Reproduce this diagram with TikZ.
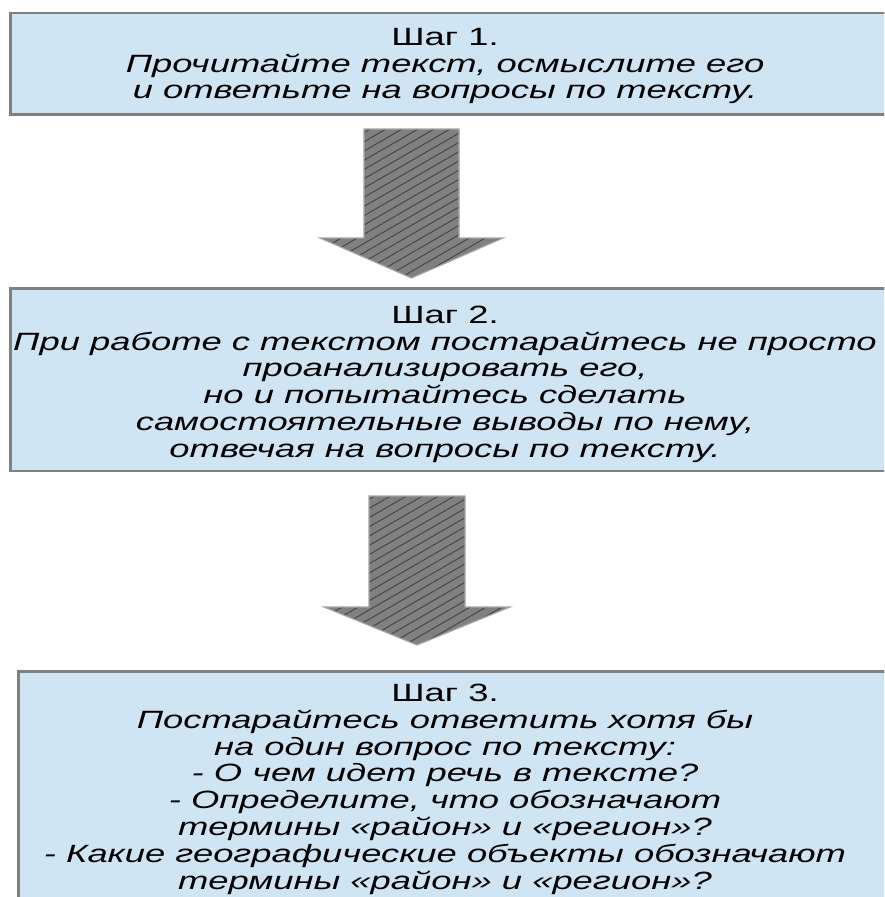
\documentclass[tikz,border=0pt]{standalone}
\usepackage{fontspec}
\setmainfont{Liberation Sans}[FakeStretch=1.455]
\usetikzlibrary{patterns.meta}
\definecolor{boxfill}{RGB}{208,229,243}
\definecolor{boxline}{RGB}{128,128,128}
\definecolor{arrowfill}{RGB}{128,128,128}
\definecolor{arrowline}{RGB}{165,165,165}
\definecolor{arrowdark}{RGB}{70,70,70}
\begin{document}
\begin{tikzpicture}[x=1pt,y=-1pt,
  stepbox/.style={draw=boxline, fill=boxfill, line width=2.8pt, rectangle, inner sep=0pt, outer sep=0pt},
  steptext/.style={anchor=north, inner sep=0pt, align=center, text=black, font=\fontsize{25}{26.8}\selectfont},
  blockarrow/.style={preaction={fill=arrowfill}, pattern={Lines[angle=30,distance=8pt,line width=1pt]}, pattern color=arrowdark, draw=arrowline, line width=1.2pt, line join=miter}]
\useasboundingbox (0,0) rectangle (884,897);
\clip (0,0) rectangle (884,897);

% boxes
\node[stepbox, minimum width=890pt, minimum height=101.5pt] (s1) at (455.5,63.75) {};
\node[stepbox, minimum width=890pt, minimum height=182.5pt] (s2) at (455.5,379.75) {};
\node[stepbox, minimum width=882pt, minimum height=240pt] (s3) at (459.5,791.5) {};

% texts
\node[steptext] (t1) at (445,26.24) {\strut Шаг 1.\\ \itshape Прочитайте текст, осмыслите его\\ \itshape и ответьте на вопросы по тексту.};
\node[steptext] (t2) at (445,304.24) {\strut Шаг 2.\\ \itshape При работе с текстом постарайтесь не просто\\ \itshape проанализировать его,\\ \itshape но и попытайтесь сделать\\ \itshape самостоятельные выводы по нему,\\ \itshape отвечая на вопросы по тексту.};
\node[steptext] (t3) at (445,682.44) {\strut Шаг 3.\\ \itshape Постарайтесь ответить хотя бы\\ \itshape на один вопрос по тексту:\\ \itshape - О чем идет речь в тексте?\\ \itshape - Определите, что обозначают\\ \itshape термины «район» и «регион»?\\ \itshape - Какие географические объекты обозначают\\ \itshape термины «район» и «регион»?};

% block arrows
\path[blockarrow] (364,129) -- (459,129) -- (459,238) -- (503,238) -- (411.5,278) -- (320,238) -- (364,238) -- cycle;
\path[blockarrow] (369,496) -- (465,496) -- (465,607) -- (510,607) -- (417,645) -- (324,607) -- (369,607) -- cycle;
\end{tikzpicture}
\end{document}
